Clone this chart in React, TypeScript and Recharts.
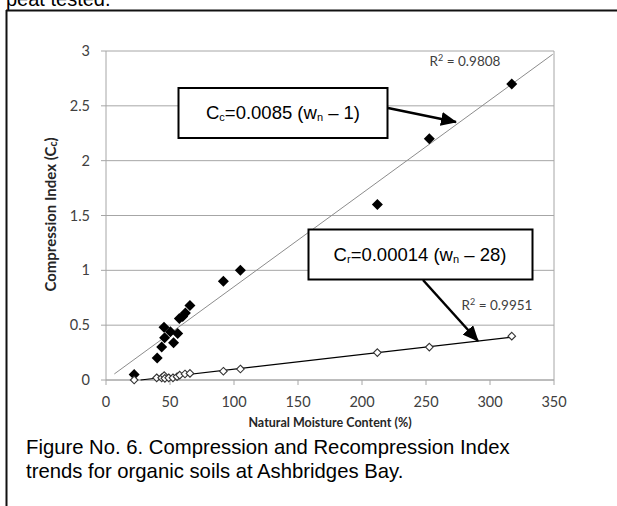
import React from 'react'
import {
  ScatterChart,
  Scatter,
  XAxis,
  YAxis,
  CartesianGrid,
  ReferenceLine,
} from 'recharts'

// Compression index Cc (filled diamonds)
const ccMoisture = [22, 40, 43.5, 45.3, 45.8, 50.3, 52.8, 56, 57.3, 59.9, 62, 65.6, 91.7, 105, 212, 252.6, 317]
const ccIndex = [0.05, 0.2, 0.3, 0.48, 0.385, 0.44, 0.34, 0.425, 0.56, 0.58, 0.61, 0.68, 0.9, 1.0, 1.6, 2.2, 2.7]

// Recompression index Cr (open diamonds)
const crMoisture = [22, 39.6, 43.5, 45.5, 46, 49, 52.3, 55.5, 57.6, 61.7, 65.6, 91.7, 105, 212, 252.6, 317]
const crIndex = [0, 0.02, 0.02, 0.04, 0.015, 0.02, 0.02, 0.03, 0.045, 0.055, 0.06, 0.08, 0.1, 0.25, 0.3, 0.4]

// trendline end points as drawn by the spreadsheet
const ccTrendX = [6.5, 349]
const ccTrendY = [0.055, 2.97]
const crTrendX = [27, 317]
const crTrendY = [0, 0.39]

const xTicks = [0, 50, 100, 150, 200, 250, 300, 350]
const yTicks = [0, 0.5, 1, 1.5, 2, 2.5, 3]

const zip = (xs: number[], ys: number[]) => xs.map((x, i) => ({ x, y: ys[i] }))

const ccData = zip(ccMoisture, ccIndex)
const crData = zip(crMoisture, crIndex)
const ccTrend = zip(ccTrendX, ccTrendY)
const crTrend = zip(crTrendX, crTrendY)

const GRID = '#a6a6a6'
const TICK_FONT = 'Lato, "Open Sans", sans-serif'
const ARIAL = '"Liberation Sans", Arial, sans-serif'

const FilledDiamond = ({ cx, cy }: any) => (
  <path d={`M${cx},${cy - 5.5}L${cx + 5.5},${cy}L${cx},${cy + 5.5}L${cx - 5.5},${cy}Z`} fill="#000" />
)

const OpenDiamond = ({ cx, cy }: any) => (
  <path
    d={`M${cx},${cy - 3.8}L${cx + 3.8},${cy}L${cx},${cy + 3.8}L${cx - 3.8},${cy}Z`}
    fill="#fff"
    stroke="#333"
    strokeWidth={1.1}
  />
)

const NoPoint = () => null

const YLabel = ({ viewBox }: any) => {
  const cy = viewBox.y + viewBox.height / 2 - 1
  return (
    <text
      x={50}
      y={cy}
      transform={`rotate(-90, 50, ${cy})`}
      textAnchor="middle"
      dominantBaseline="central"
      fontFamily={TICK_FONT}
      fontWeight={700}
      fontSize={15}
      fill="#262626"
    >
      Compression Index (C
      <tspan fontSize={10.5} dy={3}>c</tspan>
      <tspan dy={-3}>)</tspan>
    </text>
  )
}

export default function App() {
  return (
    <div style={{ position: 'absolute', left: 0, top: 0, width: 617, height: 506, background: '#fff' }}>
      <ScatterChart width={617} height={506} margin={{ top: 51, right: 63, bottom: 76, left: 56 }}>
        <CartesianGrid vertical={false} stroke={GRID} />
        <XAxis
          type="number"
          dataKey="x"
          domain={[0, 350]}
          ticks={xTicks}
          height={50}
          stroke={GRID}
          tickSize={5}
          tickMargin={12}
          tick={{ fill: '#404040', fontSize: 14.5, fontFamily: TICK_FONT }}
          label={{
            value: 'Natural Moisture Content (%)',
            position: 'insideBottom',
            offset: 3,
            fill: '#262626',
            fontSize: 12.5,
            fontWeight: 700,
            fontFamily: TICK_FONT,
          }}
        />
        <YAxis
          type="number"
          dataKey="y"
          domain={[0, 3]}
          ticks={yTicks}
          width={50}
          stroke={GRID}
          tickSize={5}
          tickMargin={11}
          tick={{ fill: '#404040', fontSize: 14.5, fontFamily: TICK_FONT }}
          label={{ content: YLabel }}
        />
        <ReferenceLine x={350} stroke={GRID} />
        <Scatter data={ccTrend} line={{ stroke: '#8c8c8c', strokeWidth: 1 }} shape={NoPoint} isAnimationActive={false} />
        <Scatter data={crTrend} line={{ stroke: '#000', strokeWidth: 1.2 }} shape={NoPoint} isAnimationActive={false} />
        <Scatter data={ccData} shape={FilledDiamond} isAnimationActive={false} />
        <Scatter data={crData} shape={OpenDiamond} isAnimationActive={false} />
      </ScatterChart>

      <svg
        width={617}
        height={506}
        style={{ position: 'absolute', left: 0, top: 0, pointerEvents: 'none' }}
      >
        <defs>
          <marker id="head" markerUnits="userSpaceOnUse" markerWidth={16} markerHeight={14} refX={15} refY={7} orient="auto">
            <path d="M0,0L16,7L0,14Z" fill="#000" />
          </marker>
        </defs>

        {/* page frame and text around the figure */}
        <text x={6} y={6} fontFamily={ARIAL} fontSize={20} fill="#000">peat tested.</text>
        <line x1={6} y1={10.5} x2={617} y2={10.5} stroke="#111" strokeWidth={2} />
        <line x1={6.5} y1={10} x2={6.5} y2={506} stroke="#111" strokeWidth={2} />

        {/* R squared labels */}
        <text x={465} y={66} textAnchor="middle" fontFamily={TICK_FONT} fontSize={13.5} fill="#404040">
          R<tspan fontSize={9} dy={-5}>2</tspan><tspan dy={5}> = 0.9808</tspan>
        </text>
        <text x={497} y={310} textAnchor="middle" fontFamily={TICK_FONT} fontSize={13.5} fill="#404040">
          R<tspan fontSize={9} dy={-5}>2</tspan><tspan dy={5}> = 0.9951</tspan>
        </text>

        {/* Cc annotation */}
        <line x1={388} y1={108} x2={456} y2={122} stroke="#000" strokeWidth={2.5} markerEnd="url(#head)" />
        <rect x={178.5} y={88} width={209} height={50} fill="#fff" stroke="#000" strokeWidth={2} />
        <text x={283} y={119} textAnchor="middle" fontFamily={ARIAL} fontSize={18.5} fill="#000">
          C<tspan fontSize={11} dy={2}>c</tspan>
          <tspan dy={-2}>=0.0085 (w</tspan>
          <tspan fontSize={11} dy={2}>n</tspan>
          <tspan dy={-2}> – 1)</tspan>
        </text>

        {/* Cr annotation */}
        <line x1={423} y1={280} x2={478} y2={341} stroke="#000" strokeWidth={2.5} markerEnd="url(#head)" />
        <rect x={308.5} y={229.5} width={224} height={50} fill="#fff" stroke="#000" strokeWidth={2} />
        <text x={420} y={261} textAnchor="middle" fontFamily={ARIAL} fontSize={18.5} fill="#000">
          C<tspan fontSize={11} dy={2}>r</tspan>
          <tspan dy={-2}>=0.00014 (w</tspan>
          <tspan fontSize={11} dy={2}>n</tspan>
          <tspan dy={-2}> – 28)</tspan>
        </text>

        {/* caption */}
        <text x={26} y={454} fontFamily={ARIAL} fontSize={20.3} fill="#000">
          Figure No. 6. Compression and Recompression Index
        </text>
        <text x={26} y={478} fontFamily={ARIAL} fontSize={20.3} fill="#000">
          trends for organic soils at Ashbridges Bay.
        </text>
      </svg>
    </div>
  )
}
